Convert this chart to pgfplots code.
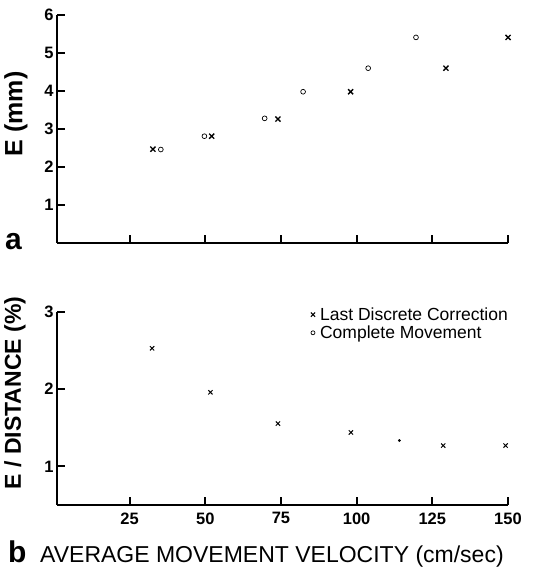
\documentclass[border=0pt]{standalone}
\usepackage{pgfplots}
\pgfplotsset{compat=1.18}
\usepackage{fontspec}
\setmainfont{Liberation Sans}
\begin{document}
\begin{tikzpicture}
\useasboundingbox (0pt,0pt) rectangle (540pt,569pt);
\pgfplotsset{
  base/.style={
    scale only axis,
    width=451pt,
    xmin=1, xmax=150,
    axis lines=left,
    axis line style={-, line width=1.9pt},
    tick align=inside,
    tick pos=left,
    major tick length=8pt,
    every tick/.style={line width=1.8pt, black},
    xtick={25,50,75,100,125,150},
    /pgf/number format/assume math mode=true,
    tick label style={font=\fontsize{16.5}{18}\selectfont\bfseries},
    clip=false,
  }
}
% Top panel
\begin{axis}[base, at={(57pt,326pt)}, anchor=south west, height=228pt,
  ymin=0, ymax=6, ytick={1,2,3,4,5,6},
  xticklabels={}]
\addplot[only marks, mark=x, mark size=3.6pt, line width=1.3pt] coordinates {
 (32.7,2.47) (52.1,2.81) (74.0,3.26) (98.0,3.98) (129.5,4.6) (150,5.41)};
\addplot[only marks, mark=o, mark size=2.4pt, line width=0.7pt] coordinates {
 (35.3,2.46) (49.7,2.81) (69.6,3.28) (82.3,3.98) (103.8,4.6) (119.6,5.41)};
\end{axis}
% Bottom panel
\begin{axis}[base, at={(57pt,64pt)}, anchor=south west, height=193pt,
  ymin=0.5, ymax=3, ytick={1,2,3},
  xticklabel style={yshift=-4pt},
  legend style={draw=none, fill=none, at={(1.0,1.045)}, anchor=north east,
    xshift=5pt,
    font=\fontsize{17.5}{22}\selectfont, cells={anchor=west},
    /tikz/every odd column/.append style={column sep=3pt}},
  legend image code/.code={\draw[#1] plot coordinates {(0.1cm,0cm)};}]
\addplot[only marks, mark=x, mark size=3pt, line width=1pt] coordinates {
 (32.4,2.53) (51.7,1.96) (74.0,1.555) (98.1,1.44) (128.6,1.27) (149.2,1.27)};
\addlegendentry{Last Discrete Correction}
\addlegendimage{only marks, mark=o, mark size=2pt, line width=0.7pt}
\addlegendentry{Complete Movement}
\addplot[only marks, mark=*, mark size=1.2pt, forget plot] coordinates {(114.1,1.335)};
\end{axis}
% labels
\node[rotate=90, font=\fontsize{25}{30}\selectfont\bfseries] at (16pt,455pt) {E (mm)};
\node[rotate=90, font=\fontsize{23}{28}\selectfont\bfseries] at (15pt,176pt) {E / DISTANCE (\%)};
\node[anchor=base west, font=\fontsize{30}{34}\selectfont\bfseries, inner sep=0] at (5pt,319pt) {a};
\node[anchor=base west, font=\fontsize{30}{34}\selectfont\bfseries, inner sep=0] at (8pt,6pt) {b};
\node[anchor=base west, font=\fontsize{23}{28}\selectfont, inner sep=0] at (40pt,6pt) {AVERAGE MOVEMENT VELOCITY (cm/sec)};
\end{tikzpicture}
\end{document}
